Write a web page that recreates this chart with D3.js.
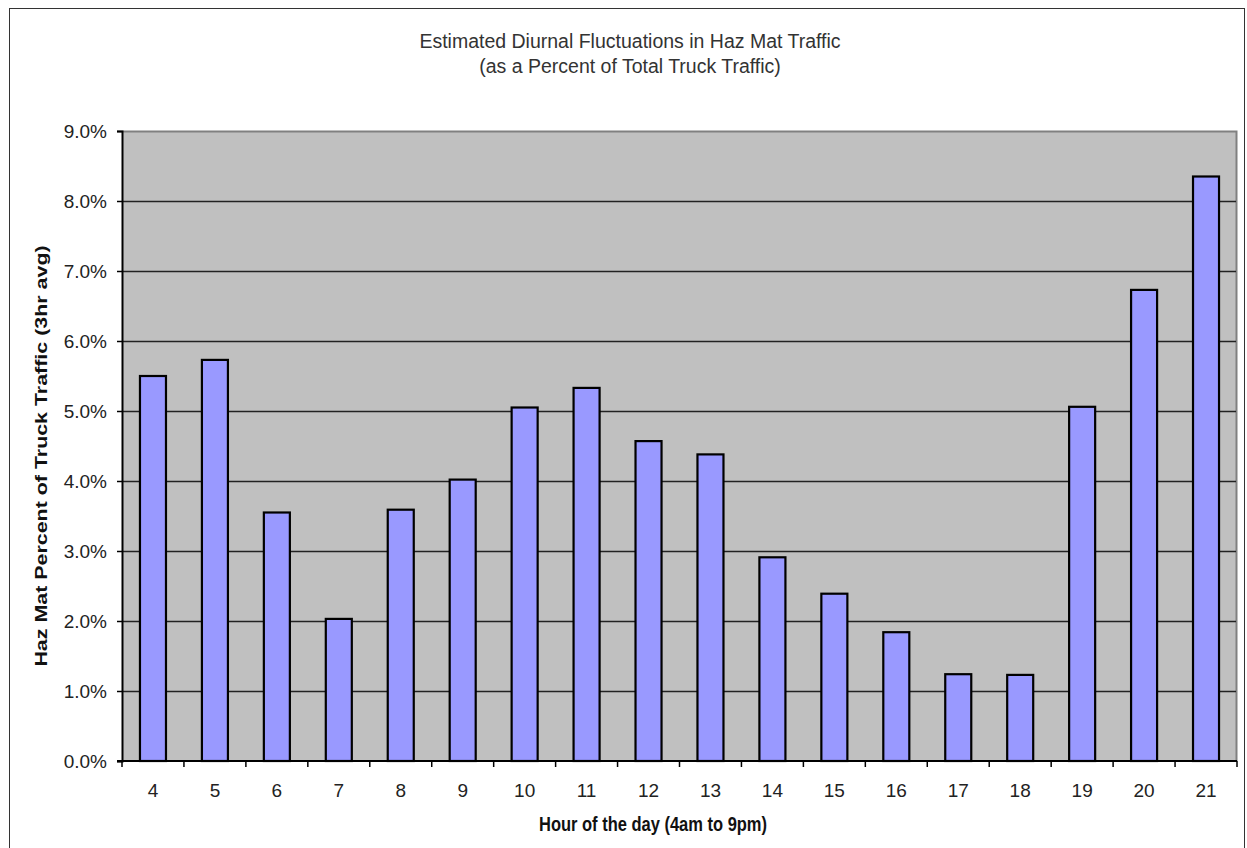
<!DOCTYPE html>
<html>
<head>
<meta charset="utf-8">
<script src="https://cdn.jsdelivr.net/npm/d3@7"></script>
<style>
  html, body { margin: 0; padding: 0; background: #fff; }
  svg { display: block; font-family: "Liberation Sans", Arial, sans-serif; }
</style>
</head>
<body>
<svg id="chart" width="1247" height="848"></svg>
<script>
// hours shown on the x axis
const hours = [4, 5, 6, 7, 8, 9, 10, 11, 12, 13, 14, 15, 16, 17, 18, 19, 20, 21];
// haz mat share of truck traffic, 3hr average (fraction)
const hazShare = [0.0550, 0.0573, 0.0355, 0.0203, 0.0359, 0.0402, 0.0505, 0.0533, 0.0457,
                  0.0438, 0.0291, 0.0239, 0.0184, 0.0124, 0.0123, 0.0506, 0.0673, 0.0835];
const yTicks = [0, 0.01, 0.02, 0.03, 0.04, 0.05, 0.06, 0.07, 0.08, 0.09];
const titleLines = ['Estimated Diurnal Fluctuations in Haz Mat Traffic', '(as a Percent of Total Truck Traffic)'];
const xTitle = 'Hour of the day (4am to 9pm)';
const yTitle = 'Haz Mat Percent of Truck Traffic (3hr avg)';

const svg = d3.select('#chart');
const plot = { left: 122, right: 1237, top: 131, bottom: 761 };

// outer frame
svg.append('rect')
  .attr('x', 9.5).attr('y', 8.5)
  .attr('width', 1235).attr('height', 860)
  .attr('fill', 'none').attr('stroke', '#333').attr('stroke-width', 1);

const x = d3.scaleBand()
  .domain(hours)
  .range([plot.left, plot.right])
  .paddingInner(0.58)
  .paddingOuter(0.29);
const xEdge = d3.scaleBand().domain(hours).range([plot.left, plot.right]);

const y = d3.scaleLinear().domain([0, 0.09]).range([plot.bottom, plot.top]);

// plot background
svg.append('rect')
  .attr('x', plot.left).attr('y', plot.top)
  .attr('width', plot.right - plot.left).attr('height', plot.bottom - plot.top)
  .attr('fill', '#c0c0c0');

// top and right plot border
svg.append('path')
  .attr('d', `M${plot.left},${plot.top + 0.5}H${plot.right - 0.5}V${plot.bottom}`)
  .attr('fill', 'none').attr('stroke', '#808080').attr('stroke-width', 2);

// gridlines
svg.append('g').selectAll('line')
  .data(yTicks.slice(1, -1))
  .join('line')
  .attr('x1', plot.left).attr('x2', plot.right - 1)
  .attr('y1', d => Math.round(y(d)) + 0.5).attr('y2', d => Math.round(y(d)) + 0.5)
  .attr('stroke', '#222').attr('stroke-width', 1.3);

// bars
svg.append('g').selectAll('rect')
  .data(hours.map((h, i) => ({ h, v: hazShare[i] })))
  .join('rect')
  .attr('x', d => x(d.h))
  .attr('y', d => y(d.v))
  .attr('width', x.bandwidth())
  .attr('height', d => y(0) - y(d.v))
  .attr('fill', '#9999ff')
  .attr('stroke', '#000')
  .attr('stroke-width', 2.2);

// y axis
const yAxis = svg.append('g')
  .attr('transform', `translate(${plot.left},0)`)
  .call(d3.axisLeft(y).tickValues(yTicks).tickFormat(d3.format('.1%')).tickSize(5).tickPadding(10));
yAxis.select('.domain').attr('stroke', '#000').attr('stroke-width', 2);
yAxis.selectAll('.tick line').attr('stroke', '#000').attr('stroke-width', 1.5);
yAxis.selectAll('.tick text')
  .attr('fill', '#222').attr('font-size', 19)
  .attr('font-family', '"Liberation Sans", Arial, sans-serif');

// x axis: ticks on category boundaries, labels at centres
const xAxisG = svg.append('g').attr('transform', `translate(0,${plot.bottom})`);
xAxisG.append('line')
  .attr('x1', plot.left - 5).attr('x2', plot.right)
  .attr('stroke', '#000').attr('stroke-width', 2);
xAxisG.selectAll('line.tick')
  .data(hours.concat(['end']))
  .join('line')
  .attr('class', 'tick')
  .attr('x1', d => d === 'end' ? plot.right : xEdge(d))
  .attr('x2', d => d === 'end' ? plot.right : xEdge(d))
  .attr('y1', 0).attr('y2', 6)
  .attr('stroke', '#000').attr('stroke-width', 1.5);
xAxisG.selectAll('text')
  .data(hours)
  .join('text')
  .attr('x', d => x(d) + x.bandwidth() / 2)
  .attr('y', 36)
  .attr('text-anchor', 'middle')
  .attr('font-size', 19)
  .attr('fill', '#222')
  .text(d => d);

// chart title
svg.append('g').selectAll('text')
  .data(titleLines)
  .join('text')
  .attr('x', 630)
  .attr('y', (d, i) => 48 + i * 25)
  .attr('text-anchor', 'middle')
  .attr('font-size', 19.5)
  .attr('fill', '#333')
  .text(d => d);

// axis titles
svg.append('text')
  .attr('transform', 'translate(653,831) scale(1,1.25)')
  .attr('text-anchor', 'middle')
  .attr('font-size', 16.5)
  .attr('font-weight', 'bold')
  .attr('fill', '#111')
  .text(xTitle);

svg.append('text')
  .attr('transform', 'translate(47,456) rotate(-90) scale(1.26,1)')
  .attr('text-anchor', 'middle')
  .attr('font-size', 17)
  .attr('font-weight', 'bold')
  .attr('fill', '#111')
  .text(yTitle);
</script>
</body>
</html>
